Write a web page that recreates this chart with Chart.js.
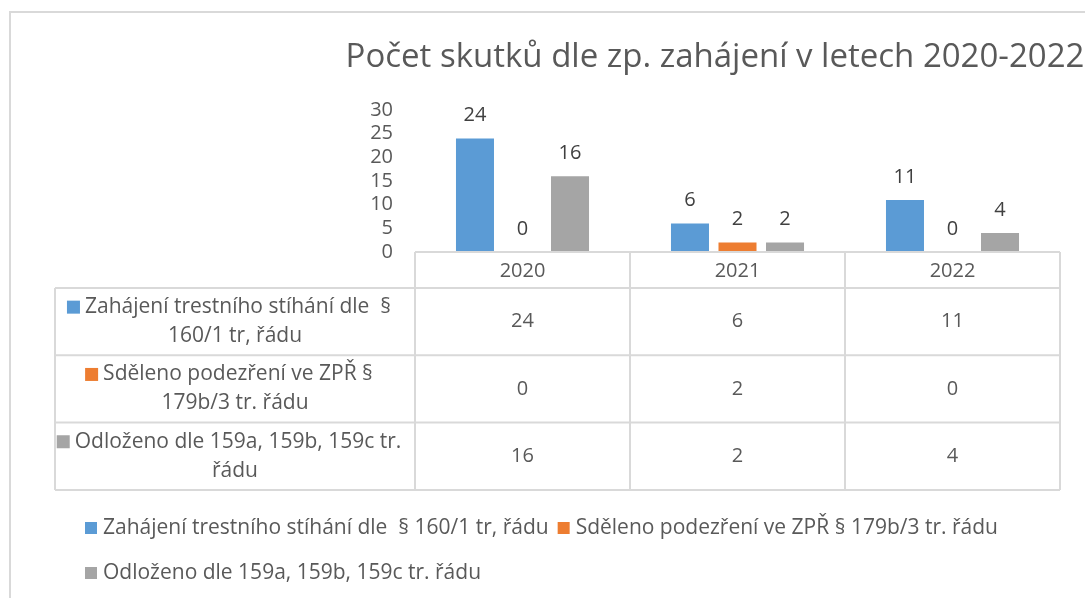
<!DOCTYPE html>
<html>
<head>
<meta charset="utf-8">
<script src="https://cdn.jsdelivr.net/npm/chart.js@4"></script>
<style>
  html, body { margin: 0; padding: 0; background: #fff; }
  #wrap { width: 1085px; height: 598px; }
</style>
</head>
<body>
<div id="wrap"><canvas id="chart" width="1085" height="598"></canvas></div>
<script>
// data
const chartTitle = 'Počet skutků dle zp. zahájení v letech 2020-2022';
const years = ['2020', '2021', '2022'];
const seriesNames = [
  'Zahájení trestního stíhání dle  § 160/1 tr, řádu',
  'Sděleno podezření ve ZPŘ § 179b/3 tr. řádu',
  'Odloženo dle 159a, 159b, 159c tr. řádu'
];
const zahajeni = [24, 6, 11];
const sdeleno = [0, 2, 0];
const odlozeno = [16, 2, 4];
const seriesColors = ['#5b9bd5', '#ed7d31', '#a5a5a5'];
// how the series names wrap in the data table
const tableLabelLines = [
  ['Zahájení trestního stíhání dle  §', '160/1 tr, řádu'],
  ['Sděleno podezření ve ZPŘ §', '179b/3 tr. řádu'],
  ['Odloženo dle 159a, 159b, 159c tr.', 'řádu']
];

const FONT = '"Open Sans", "Noto Sans", sans-serif';
const TEXT = '#595959';
const LINE = '#d9d9d9';

// white page + light chart frame
const framePlugin = {
  id: 'frame',
  beforeDraw(chart) {
    const c = chart.ctx;
    c.save();
    c.fillStyle = '#fff';
    c.fillRect(0, 0, chart.width, chart.height);
    c.strokeStyle = LINE;
    c.lineWidth = 2;
    c.strokeRect(10, 12, 1200, 700);
    c.restore();
  }
};

const titlePlugin = {
  id: 'bigTitle',
  afterDraw(chart) {
    const c = chart.ctx;
    c.save();
    c.font = '33px ' + FONT;
    c.fillStyle = TEXT;
    c.textAlign = 'center';
    c.textBaseline = 'alphabetic';
    c.fillText(chartTitle, 715, 67);
    c.restore();
  }
};

// numbers above the bars
const valueLabels = {
  id: 'valueLabels',
  afterDatasetsDraw(chart) {
    const c = chart.ctx;
    c.save();
    c.font = '20px ' + FONT;
    c.fillStyle = '#404040';
    c.textAlign = 'center';
    c.textBaseline = 'middle';
    chart.data.datasets.forEach((ds, di) => {
      chart.getDatasetMeta(di).data.forEach((bar, i) => {
        c.fillText(String(ds.data[i]), bar.x, bar.y - 23);
      });
    });
    c.restore();
  }
};

// data table under the plot
const dataTable = {
  id: 'dataTable',
  afterDraw(chart) {
    const c = chart.ctx;
    const area = chart.chartArea;
    const x = chart.scales.x;
    const catW = (area.right - area.left) / years.length;
    const tableLeft = 55;
    const headTop = area.bottom;
    const headH = 36;
    const rowH = 67.3;
    const rowTops = chart.data.datasets.map((_, i) => headTop + headH + i * rowH);
    const tableBottom = headTop + headH + chart.data.datasets.length * rowH;

    c.save();
    c.strokeStyle = LINE;
    c.lineWidth = 2;
    c.beginPath();
    c.moveTo(area.left, headTop);
    c.lineTo(area.right, headTop);
    rowTops.concat([tableBottom]).forEach(y => {
      c.moveTo(tableLeft, y);
      c.lineTo(area.right, y);
    });
    c.moveTo(tableLeft, rowTops[0]);
    c.lineTo(tableLeft, tableBottom);
    for (let i = 0; i <= years.length; i++) {
      const bx = area.left + i * catW;
      c.moveTo(bx, headTop);
      c.lineTo(bx, tableBottom);
    }
    c.stroke();

    c.font = '20px ' + FONT;
    c.fillStyle = TEXT;
    c.textAlign = 'center';
    c.textBaseline = 'middle';
    years.forEach((yr, i) => c.fillText(yr, x.getPixelForValue(i), headTop + headH / 2 + 1));

    const labelCx = (tableLeft + area.left) / 2;
    chart.data.datasets.forEach((ds, di) => {
      const cy = rowTops[di] + rowH / 2;
      c.font = '20px ' + FONT;
      ds.data.forEach((v, i) => c.fillText(String(v), x.getPixelForValue(i), cy));

      c.font = '21px ' + FONT;
      const lines = tableLabelLines[di];
      const box = 13, gap = 5;
      const w1 = box + gap + c.measureText(lines[0]).width;
      const x1 = labelCx - w1 / 2 - 6;
      const y1 = cy - 14.5;
      c.fillStyle = ds.backgroundColor;
      c.fillRect(x1, y1 - box / 2, box, box);
      c.fillStyle = TEXT;
      c.textAlign = 'left';
      c.fillText(lines[0], x1 + box + gap, y1);
      c.textAlign = 'center';
      c.fillText(lines[1], labelCx, cy + 14.5);
    });
    c.restore();
  }
};

// legend at the bottom, two rows like the original
const bottomLegend = {
  id: 'bottomLegend',
  afterDraw(chart) {
    const c = chart.ctx;
    const rows = [[0, 1], [2]];
    const rowY = [528, 573];
    const box = 12, gap = 6, itemGap = 9;
    c.save();
    c.font = '21px ' + FONT;
    c.textAlign = 'left';
    c.textBaseline = 'middle';
    rows.forEach((row, r) => {
      let px = 85;
      row.forEach(di => {
        const ds = chart.data.datasets[di];
        c.fillStyle = ds.backgroundColor;
        c.fillRect(px, rowY[r] - box / 2, box, box);
        px += box + gap;
        c.fillStyle = TEXT;
        c.fillText(ds.label, px, rowY[r]);
        px += c.measureText(ds.label).width + itemGap;
      });
    });
    c.restore();
  }
};

const seriesData = [zahajeni, sdeleno, odlozeno];

new Chart(document.getElementById('chart').getContext('2d'), {
  type: 'bar',
  data: {
    labels: years,
    datasets: seriesData.map((d, i) => ({
      label: seriesNames[i],
      data: d,
      backgroundColor: seriesColors[i],
      categoryPercentage: 0.663,
      barPercentage: 0.8
    }))
  },
  options: {
    responsive: false,
    animation: false,
    layout: { padding: { top: 110, right: 25, left: 0, bottom: 0 } },
    scales: {
      x: {
        grid: { display: false, drawTicks: false },
        border: { display: false },
        ticks: { display: false },
        afterFit: s => { s.height = 346; }
      },
      y: {
        min: 0,
        max: 30,
        grid: { display: false, drawTicks: false },
        border: { display: false },
        ticks: {
          stepSize: 5,
          autoSkip: false,
          padding: 22,
          color: TEXT,
          font: { family: FONT, size: 20 }
        },
        afterFit: s => { s.width = 415; }
      }
    },
    plugins: {
      legend: { display: false },
      title: { display: false },
      tooltip: { enabled: false }
    }
  },
  plugins: [framePlugin, titlePlugin, valueLabels, dataTable, bottomLegend]
});
</script>
</body>
</html>
